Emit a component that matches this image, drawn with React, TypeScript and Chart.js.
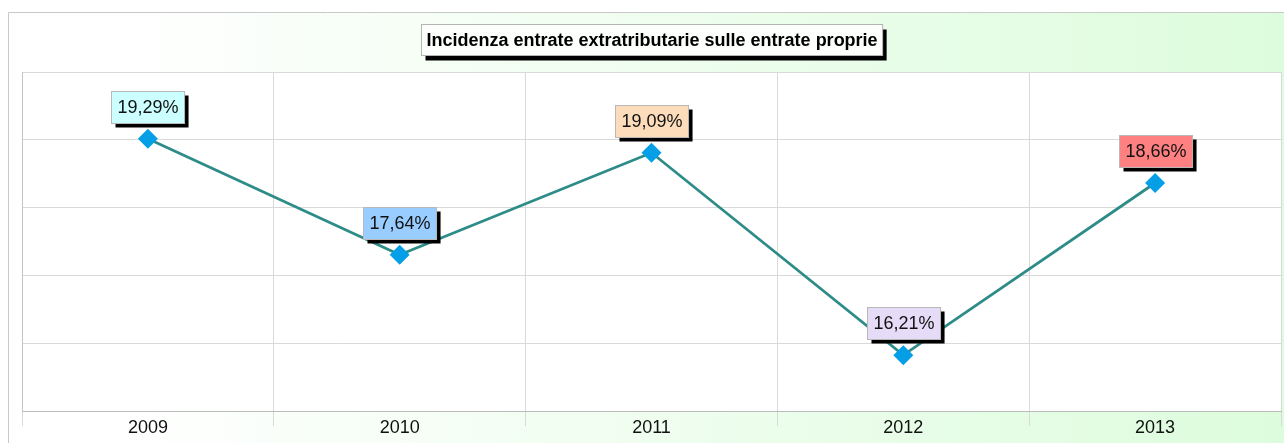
import React, { useEffect, useRef } from "react";
import { Chart, registerables } from "chart.js";

Chart.register(...registerables);

const years = ["2009", "2010", "2011", "2012", "2013"];
const values = [19.29, 17.64, 19.09, 16.21, 18.66];
const valueLabels = ["19,29%", "17,64%", "19,09%", "16,21%", "18,66%"];
const labelColors = ["#ccffff", "#99ccff", "#fddcbb", "#e6dcf8", "#ff8080"];
const chartTitle = "Incidenza entrate extratributarie sulle entrate proprie";
const yMin = 15.415;
const yMax = 20.24;

const FONT = "Arial, 'Liberation Sans', sans-serif";
const W = 1284;
const H = 443;

export default function App() {
  const ref = useRef<HTMLCanvasElement | null>(null);

  useEffect(() => {
    const canvas = ref.current;
    if (!canvas) return;

    const decor = {
      id: "decor",
      beforeDraw(chart: any) {
        const ctx = chart.ctx;
        const ca = chart.chartArea;
        ctx.save();
        ctx.fillStyle = "#ffffff";
        ctx.fillRect(0, 0, W, H);
        const g = ctx.createLinearGradient(110, 0, W, 0);
        g.addColorStop(0, "#ffffff");
        g.addColorStop(1, "#ddfcdd");
        ctx.fillStyle = g;
        ctx.fillRect(8, 12, W - 8, H - 12);
        ctx.strokeStyle = "#c8c8c8";
        ctx.lineWidth = 1;
        ctx.beginPath();
        ctx.moveTo(8.5, H);
        ctx.lineTo(8.5, 12.5);
        ctx.lineTo(W, 12.5);
        ctx.stroke();
        ctx.fillStyle = "#ffffff";
        ctx.fillRect(ca.left, ca.top, ca.right - ca.left, ca.bottom - ca.top);

        // title box
        ctx.font = "bold 18px " + FONT;
        const tw = ctx.measureText(chartTitle).width;
        const bw = tw + 10;
        const bh = 31;
        const cx = (ca.left + ca.right) / 2;
        const bx = Math.round(cx - bw / 2) + 0.5;
        const by = 24.5;
        ctx.fillStyle = "#000000";
        ctx.fillRect(bx + 4, by + 5, bw, bh);
        ctx.fillStyle = "#fdfffd";
        ctx.fillRect(bx, by, bw, bh);
        ctx.strokeStyle = "#b4b4b4";
        ctx.strokeRect(bx, by, bw, bh);
        ctx.fillStyle = "#000000";
        ctx.textAlign = "center";
        ctx.textBaseline = "middle";
        ctx.fillText(chartTitle, bx + bw / 2, by + bh / 2 + 1);
        ctx.restore();
      },
      afterDatasetsDraw(chart: any) {
        const ctx = chart.ctx;
        const meta = chart.getDatasetMeta(0);
        ctx.save();
        ctx.font = "18px " + FONT;
        ctx.textAlign = "center";
        ctx.textBaseline = "middle";
        meta.data.forEach((pt: any, i: number) => {
          const text = valueLabels[i];
          const tw = ctx.measureText(text).width;
          const bw = tw + 12;
          const bh = 32;
          const bx = Math.round(pt.x - bw / 2) + 0.5;
          const by = Math.round(pt.y - 32 - bh / 2) + 0.5;
          ctx.fillStyle = "#000000";
          ctx.fillRect(bx + 4, by + 4, bw, bh);
          ctx.fillStyle = labelColors[i];
          ctx.fillRect(bx, by, bw, bh);
          ctx.strokeStyle = "#b8b8b8";
          ctx.lineWidth = 1;
          ctx.strokeRect(bx, by, bw, bh);
          ctx.fillStyle = "#111111";
          ctx.fillText(text, bx + bw / 2, by + bh / 2 + 1);
        });
        ctx.restore();
      },
    };

    const chart = new Chart(canvas, {
      type: "line",
      data: {
        labels: years,
        datasets: [
          {
            data: values,
            borderColor: "#2e8c88",
            borderWidth: 2.75,
            pointStyle: "rectRot",
            pointRadius: 10,
            pointBackgroundColor: "#049fe6",
            pointBorderColor: "#049fe6",
            pointBorderWidth: 0,
            tension: 0,
          },
        ],
      },
      options: {
        responsive: false,
        animation: false,
        events: [],
        layout: { autoPadding: false, padding: { left: 22, right: 3, top: 72, bottom: 0 } },
        plugins: {
          legend: { display: false },
          tooltip: { enabled: false },
          title: { display: false },
        },
        scales: {
          x: {
            offset: true,
            grid: { offset: true, color: "#d9d9d9", tickLength: 15, drawTicks: true },
            border: { color: "#bcbcbc" },
            ticks: { font: { family: FONT, size: 18 }, color: "#111111", padding: -9 },
            afterFit: (s: any) => {
              s.height = 32;
            },
          },
          y: {
            min: yMin,
            max: yMax,
            ticks: { count: 6, display: false },
            grid: { color: "#d9d9d9", drawTicks: false },
            border: { display: true, color: "#c4c4c4" },
            afterFit: (s: any) => {
              s.width = 0;
            },
          },
        },
      },
      plugins: [decor],
    });

    return () => chart.destroy();
  }, []);

  return (
    <div style={{ position: "fixed", left: 0, top: 0, width: W, height: H }}>
      <canvas ref={ref} width={W} height={H} style={{ display: "block", width: W, height: H }} />
    </div>
  );
}
